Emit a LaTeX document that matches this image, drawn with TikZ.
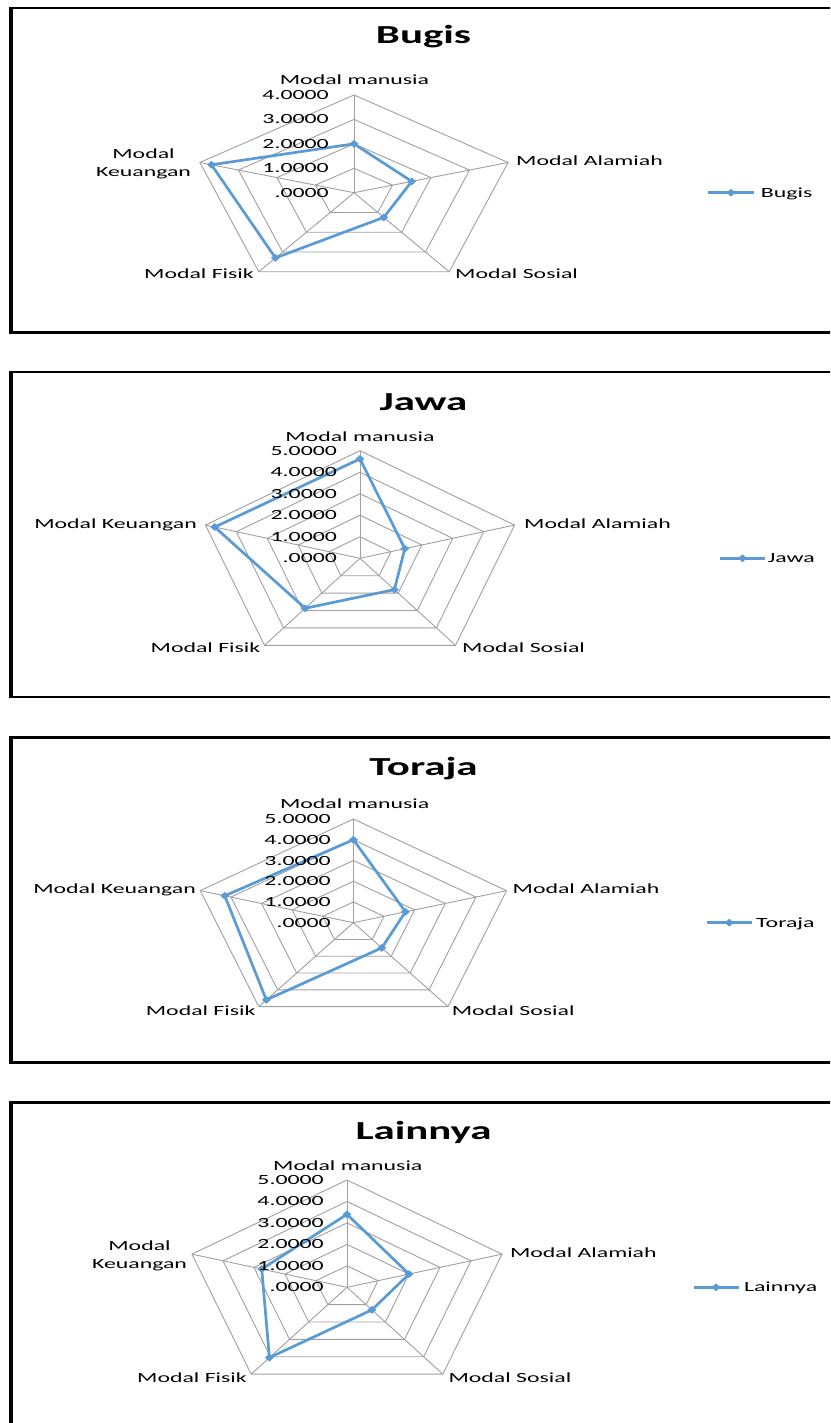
\documentclass[tikz,border=0pt]{standalone}
\usepackage{fontspec}
\usetikzlibrary{shapes.geometric}
\newfontfamily\lblfont[FakeStretch=1.7]{Carlito}
\newfontfamily\ttlfont[FakeStretch=1.65]{Carlito}
\definecolor{serieshue}{RGB}{91,155,213}
\definecolor{gridhue}{RGB}{160,160,160}
\tikzset{
  gridline/.style={draw=gridhue, line width=0.9pt},
  series/.style={draw=serieshue, line width=2.7pt, line join=miter},
  mk/.style={shape=diamond, fill=serieshue, inner sep=0pt, minimum width=9pt, minimum height=8pt},
  lbl/.style={inner sep=0pt, font=\lblfont\fontsize{14}{18.3}\selectfont},
  ttl/.style={inner sep=0pt, anchor=base, font=\ttlfont\bfseries\fontsize{26}{30}\selectfont},
  framehz/.style={line width=2.6pt},
  framevt/.style={line width=4.2pt},
}
\newcommand\radargrid[1]{%
  \foreach \l in {1,...,#1}{%
    \draw[gridline] (90:{\l/#1}) -- (18:{\l/#1}) -- (-54:{\l/#1}) -- (-126:{\l/#1}) -- (162:{\l/#1}) -- cycle;}
  \foreach \a in {90,18,-54,-126,162}{\draw[gridline] (0,0) -- (\a:1);}
}
\newcommand\tickcol[4]{%
  \foreach \k in {0,...,#4}{%
    \pgfmathsetmacro\ty{#2-\k*#3+4.5}%
    \node[lbl,anchor=base east] at (#1,\ty) {\ifnum\k=0 .0000\else\k.0000\fi};}
}
\begin{document}
\begin{tikzpicture}[x=1pt,y=-1pt]
\useasboundingbox (0,0) rectangle (830,1423);
\fill[white] (0,0) rectangle (830,1423);
\clip (0,0) rectangle (830,1423);

% ---------------- frames ----------------
\draw[framehz] (840,8) -- (9,8);
\draw[framehz] (9,332.5) -- (840,332.5);
\draw[framevt] (11,6.7) -- (11,333.8);
\draw[framehz] (840,372) -- (9,372);
\draw[framehz] (9,697) -- (840,697);
\draw[framevt] (11,370.7) -- (11,698.3);
\draw[framehz] (840,737.3) -- (9,737.3);
\draw[framehz] (9,1062.7) -- (840,1062.7);
\draw[framevt] (11,736) -- (11,1064);
\draw[framehz] (840,1102.7) -- (9,1102.7);
\draw[framevt] (11,1101.4) -- (11,1430);

% ================= Bugis =================
\node[ttl] (t1) at (423.5,43.3) {Bugis};
\begin{scope}[shift={(354,192.7)}, x=162pt, y=97.7pt]
  \radargrid{4}
  \coordinate (b1) at (90:{2.0/4});
  \coordinate (b2) at (18:{1.5/4});
  \coordinate (b3) at (-54:{1.25/4});
  \coordinate (b4) at (-126:{3.3/4});
  \coordinate (b5) at (162:{3.7/4});
  \draw[series] (b1) -- (b2) -- (b3) -- (b4) -- (b5) -- cycle;
  \foreach \p in {b1,b2,b3,b4,b5}{\node[mk] at (\p) {};}
\end{scope}
\tickcol{329}{192.7}{24.4}{4}
\node[lbl,anchor=base] (b-man) at (354.5,84.8) {Modal manusia};
\node[lbl,anchor=base west] (b-ala) at (516,165.5) {Modal Alamiah};
\node[lbl,anchor=base west] (b-sos) at (455,278.8) {Modal Sosial};
\node[lbl,anchor=base east] (b-fis) at (254,278.8) {Modal Fisik};
\node[lbl,align=center] (b-keu) at (143.5,164) {Modal\\Keuangan};
\coordinate (lb1) at (708,192.7);
\coordinate (lb2) at (754,192.7);
\draw[series] (lb1) -- (lb2);
\node[mk] (lbm) at (731,192.7) {};
\node[lbl,anchor=base west] (lbt) at (760.7,197.2) {Bugis};

% ================= Jawa =================
\node[ttl] (t2) at (423.5,410) {Jawa};
\begin{scope}[shift={(360,558.3)}, x=162.5pt, y=107.6pt]
  \radargrid{5}
  \coordinate (j1) at (90:{4.62/5});
  \coordinate (j2) at (18:{1.45/5});
  \coordinate (j3) at (-54:{1.8/5});
  \coordinate (j4) at (-126:{2.87/5});
  \coordinate (j5) at (162:{4.7/5});
  \draw[series] (j1) -- (j2) -- (j3) -- (j4) -- (j5) -- cycle;
  \foreach \p in {j1,j2,j3,j4,j5}{\node[mk] at (\p) {};}
\end{scope}
\tickcol{337.2}{558.3}{21.5}{5}
\node[lbl,anchor=base] (j-man) at (360,441.2) {Modal manusia};
\node[lbl,anchor=base west] (j-ala) at (524,528.5) {Modal Alamiah};
\node[lbl,anchor=base west] (j-sos) at (462,652.8) {Modal Sosial};
\node[lbl,anchor=base east] (j-fis) at (260.5,652.8) {Modal Fisik};
\node[lbl,anchor=base east] (j-keu) at (197,528.5) {Modal Keuangan};
\coordinate (lj1) at (720,558.3);
\coordinate (lj2) at (765,558.3);
\draw[series] (lj1) -- (lj2);
\node[mk] (ljm) at (742.5,558.3) {};
\node[lbl,anchor=base west] (ljt) at (767.6,562.8) {Jawa};

% ================= Toraja =================
\node[ttl] (t3) at (423.5,775) {Toraja};
\begin{scope}[shift={(353.4,922.7)}, x=161pt, y=103.7pt]
  \radargrid{5}
  \coordinate (r1) at (90:{4.0/5});
  \coordinate (r2) at (18:{1.7/5});
  \coordinate (r3) at (-54:{1.5/5});
  \coordinate (r4) at (-126:{4.6/5});
  \coordinate (r5) at (162:{4.2/5});
  \draw[series] (r1) -- (r2) -- (r3) -- (r4) -- (r5) -- cycle;
  \foreach \p in {r1,r2,r3,r4,r5}{\node[mk] at (\p) {};}
\end{scope}
\tickcol{331}{922.7}{20.7}{5}
\node[lbl,anchor=base] (r-man) at (354.7,808.5) {Modal manusia};
\node[lbl,anchor=base west] (r-ala) at (512.5,893.8) {Modal Alamiah};
\node[lbl,anchor=base west] (r-sos) at (451.6,1015.2) {Modal Sosial};
\node[lbl,anchor=base east] (r-fis) at (255.7,1015.2) {Modal Fisik};
\node[lbl,anchor=base east] (r-keu) at (196,893.8) {Modal Keuangan};
\coordinate (lr1) at (706.7,922.7);
\coordinate (lr2) at (751.7,922.7);
\draw[series] (lr1) -- (lr2);
\node[mk] (lrm) at (729.2,922.7) {};
\node[lbl,anchor=base west] (lrt) at (756,927.2) {Toraja};

% ================= Lainnya =================
\node[ttl] (t4) at (423.5,1139.3) {Lainnya};
\begin{scope}[shift={(347,1287.3)}, x=163pt, y=107.3pt]
  \radargrid{5}
  \coordinate (n1) at (90:{3.4/5});
  \coordinate (n2) at (18:{2.0/5});
  \coordinate (n3) at (-54:{1.3/5});
  \coordinate (n4) at (-126:{4.05/5});
  \coordinate (n5) at (162:{2.75/5});
  \draw[series] (n1) -- (n2) -- (n3) -- (n4) -- (n5) -- cycle;
  \foreach \p in {n1,n2,n3,n4,n5}{\node[mk] at (\p) {};}
\end{scope}
\tickcol{324}{1287.3}{21.5}{5}
\node[lbl,anchor=base] (n-man) at (347.8,1170.2) {Modal manusia};
\node[lbl,anchor=base west] (n-ala) at (509.8,1257.8) {Modal Alamiah};
\node[lbl,anchor=base west] (n-sos) at (448.4,1382.8) {Modal Sosial};
\node[lbl,anchor=base east] (n-fis) at (247,1382.8) {Modal Fisik};
\node[lbl,align=center] (n-keu) at (139.5,1255.7) {Modal\\Keuangan};
\coordinate (ln1) at (693.5,1287.3);
\coordinate (ln2) at (738.5,1287.3);
\draw[series] (ln1) -- (ln2);
\node[mk] (lnm) at (716,1287.3) {};
\node[lbl,anchor=base west] (lnt) at (743.8,1291.8) {Lainnya};
\end{tikzpicture}
\end{document}
